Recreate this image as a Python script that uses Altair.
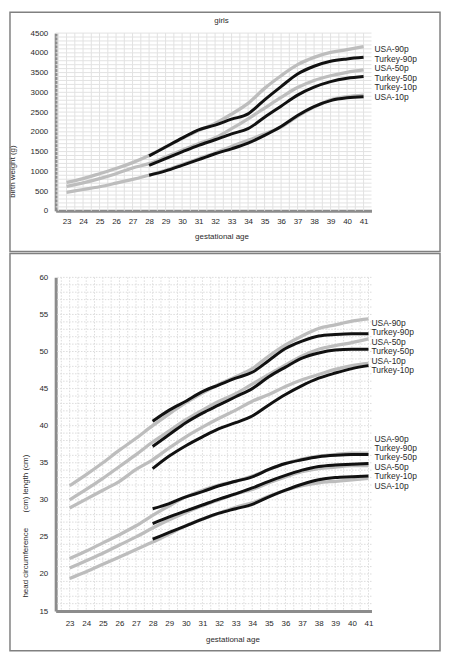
import altair as alt
import pandas as pd

FONT = "Liberation Sans"
TXT = "#2a2a2a"
GRAY = "#bdbdbd"
BLACK = "#111111"

weeks_usa = list(range(23, 42))
weeks_tr = list(range(28, 42))

# ---- top panel: birth weight (g), girls ----
bw_usa_90 = [720, 816, 940, 1070, 1220, 1400, 1615, 1830, 2035, 2210, 2450, 2720, 3100, 3420, 3700, 3885, 4010, 4080, 4155]
bw_usa_50 = [620, 706, 815, 940, 1085, 1195, 1360, 1530, 1700, 1850, 2080, 2330, 2600, 2870, 3120, 3300, 3420, 3505, 3565]
bw_usa_10 = [470, 540, 610, 700, 795, 900, 1025, 1170, 1320, 1465, 1630, 1785, 1950, 2120, 2390, 2625, 2810, 2890, 2930]
bw_tr_90 = [1390, 1615, 1840, 2050, 2170, 2320, 2455, 2810, 3145, 3465, 3660, 3785, 3845, 3885]
bw_tr_50 = [1150, 1320, 1490, 1655, 1800, 1950, 2080, 2370, 2650, 2930, 3130, 3270, 3355, 3400]
bw_tr_10 = [900, 1010, 1150, 1295, 1445, 1570, 1715, 1910, 2135, 2415, 2640, 2790, 2860, 2890]

bw_labels = ["USA-90p", "Turkey-90p", "USA-50p", "Turkey-50p", "Turkey-10p", "USA-10p"]
bw_label_y = [4098, 3846, 3620, 3369, 3142, 2891]

# ---- bottom panel: length (cm) and head circumference (cm) ----
len_usa_90 = [31.9, 33.4, 35.0, 36.7, 38.3, 40.0, 41.6, 43.1, 44.4, 45.6, 46.6, 47.7, 49.4, 50.9, 52.1, 53.1, 53.6, 54.1, 54.4]
len_usa_50 = [30.0, 31.4, 32.9, 34.5, 36.1, 37.8, 39.3, 40.8, 42.1, 43.3, 44.3, 45.6, 46.9, 48.2, 49.4, 50.3, 50.8, 51.2, 51.7]
len_usa_10 = [28.9, 30.1, 31.3, 32.5, 34.1, 35.4, 37.0, 38.5, 39.8, 41.0, 42.1, 43.3, 44.2, 45.3, 46.2, 46.9, 47.6, 48.1, 48.4]
len_tr_90 = [40.6, 42.1, 43.3, 44.6, 45.5, 46.4, 47.2, 48.8, 50.4, 51.4, 52.1, 52.3, 52.4, 52.4]
len_tr_50 = [37.2, 38.8, 40.4, 41.7, 42.8, 43.9, 45.0, 46.6, 47.9, 49.1, 49.8, 50.2, 50.3, 50.3]
len_tr_10 = [34.2, 35.9, 37.3, 38.5, 39.6, 40.4, 41.3, 42.8, 44.2, 45.4, 46.4, 47.1, 47.7, 48.1]

hc_usa_90 = [22.1, 23.1, 24.2, 25.3, 26.5, 27.9, 29.2, 30.4, 31.3, 32.0, 32.5, 33.2, 34.1, 34.9, 35.5, 35.9, 36.1, 36.3, 36.3]
hc_usa_50 = [20.8, 21.8, 22.8, 23.9, 25.0, 26.2, 27.3, 28.3, 29.2, 30.0, 30.8, 31.4, 32.3, 33.1, 33.8, 34.2, 34.4, 34.6, 34.6]
hc_usa_10 = [19.4, 20.3, 21.3, 22.3, 23.3, 24.3, 25.4, 26.5, 27.4, 28.2, 29.0, 29.6, 30.5, 31.3, 31.9, 32.3, 32.5, 32.7, 32.9]
hc_tr_90 = [28.8, 29.5, 30.4, 31.1, 31.9, 32.5, 33.1, 34.1, 34.9, 35.4, 35.8, 36.0, 36.1, 36.1]
hc_tr_50 = [26.8, 27.7, 28.5, 29.3, 30.1, 30.8, 31.6, 32.5, 33.3, 34.0, 34.5, 34.7, 34.8, 34.9]
hc_tr_10 = [24.7, 25.6, 26.5, 27.4, 28.2, 28.8, 29.4, 30.4, 31.3, 32.1, 32.7, 33.0, 33.1, 33.2]

len_labels = ["USA-90p", "Turkey-90p", "USA-50p", "Turkey-50p", "USA-10p", "Turkey-10p"]
len_label_y = [53.8, 52.6, 51.3, 50.1, 48.7, 47.5]
hc_labels = ["USA-90p", "Turkey-90p", "Turkey-50p", "USA-50p", "Turkey-10p", "USA-10p"]
hc_label_y = [38.2, 37.0, 35.8, 34.4, 33.2, 31.9]

# tick / grid values
age_ticks = list(range(23, 42))
grid_ages = [i / 2 for i in range(45, 83)]
bw_ticks = list(range(0, 4501, 500))
bw_grid = list(range(100, 4501, 100))
cm_ticks = list(range(15, 61, 5))
cm_grid = list(range(16, 61))


def long(weeks, series):
    rows = []
    for name, vals in series.items():
        for w, v in zip(weeks, vals):
            rows.append({"age": w, "value": v, "series": name})
    return pd.DataFrame(rows)


top_usa = long(weeks_usa, {"USA-90p": bw_usa_90, "USA-50p": bw_usa_50, "USA-10p": bw_usa_10})
top_tr = long(weeks_tr, {"Turkey-90p": bw_tr_90, "Turkey-50p": bw_tr_50, "Turkey-10p": bw_tr_10})
bot_usa = long(weeks_usa, {"L-USA-90p": len_usa_90, "L-USA-50p": len_usa_50, "L-USA-10p": len_usa_10,
                           "H-USA-90p": hc_usa_90, "H-USA-50p": hc_usa_50, "H-USA-10p": hc_usa_10})
bot_tr = long(weeks_tr, {"L-Turkey-90p": len_tr_90, "L-Turkey-50p": len_tr_50, "L-Turkey-10p": len_tr_10,
                         "H-Turkey-90p": hc_tr_90, "H-Turkey-50p": hc_tr_50, "H-Turkey-10p": hc_tr_10})

common_axis = dict(labelFont=FONT, labelFontSize=8, labelColor=TXT, titleFont=FONT, titleFontSize=8,
                   titleFontWeight="normal", titleColor=TXT, ticks=False, tickSize=0, grid=False,
                   domainColor="#8c8c8c", domainWidth=3, labelOverlap=False, labelFlush=False)

# ---------------- top panel ----------------
xs_top = alt.Scale(domain=[22.34, 41.48], nice=False, zero=False)
ys_top = alt.Scale(domain=[0, 4500], nice=False)
x_ax_top = alt.Axis(values=age_ticks, title="gestational age", titleX=167, titleY=26,
                    titleBaseline="middle", titleAlign="center", labelPadding=7, **common_axis)
y_ax_top = alt.Axis(values=bw_ticks, format="d", title="birth weight (g)", titleX=-43, titleY=139,
                    titleAlign="center", titleBaseline="middle", labelPadding=8, **common_axis)
XT = alt.X("age:Q", scale=xs_top, axis=x_ax_top)
YT = alt.Y("value:Q", scale=ys_top, axis=y_ax_top)

t_frame = alt.Chart(pd.DataFrame({"k": [0]})).mark_rect(fillOpacity=0, stroke="#808080", strokeWidth=1.5).encode(
    x=alt.value(-46), x2=alt.value(387), y=alt.value(-21), y2=alt.value(220))
t_title = alt.Chart(pd.DataFrame({"t": ["girls"]})).mark_text(
    font=FONT, fontSize=8, color=TXT, baseline="middle").encode(
    text="t:N", x=alt.value(167), y=alt.value(-12))
t_vgrid = alt.Chart(pd.DataFrame({"age": grid_ages})).mark_rule(color="#e2e2e2", strokeWidth=1).encode(x=XT)
t_hgrid = alt.Chart(pd.DataFrame({"value": bw_grid})).mark_rule(color="#e2e2e2", strokeWidth=1).encode(y=YT)
t_gray = alt.Chart(top_usa).mark_line(interpolate="monotone", color=GRAY, strokeWidth=3.3).encode(
    x=XT, y=YT, detail="series:N")
t_black = alt.Chart(top_tr).mark_line(interpolate="monotone", color=BLACK, strokeWidth=3).encode(
    x=XT, y=YT, detail="series:N")
t_lab = alt.Chart(pd.DataFrame({"label": bw_labels, "value": bw_label_y, "age": [41] * 6})).mark_text(
    align="left", baseline="middle", dx=11, font=FONT, fontSize=8.5, color=TXT).encode(
    x=XT, y=YT, text="label:N")

top = alt.layer(t_frame, t_title, t_vgrid, t_hgrid, t_gray, t_black, t_lab).properties(width=318, height=179)

# ---------------- bottom panel ----------------
xs_bot = alt.Scale(domain=[22.16, 41.18], nice=False, zero=False)
ys_bot = alt.Scale(domain=[15, 60], nice=False, zero=False)
x_ax_bot = alt.Axis(values=age_ticks, title="gestational age", titleX=178, titleY=29,
                    titleBaseline="middle", titleAlign="center", labelPadding=9, **common_axis)
y_ax_bot = alt.Axis(values=cm_ticks, format="d",
                    title="head circumference" + "\u00a0" * 7 + "(cm) length (cm)",
                    titleX=-30, titleY=250, titleAlign="center", titleBaseline="middle",
                    labelPadding=8, **common_axis)
XB = alt.X("age:Q", scale=xs_bot, axis=x_ax_bot)
YB = alt.Y("value:Q", scale=ys_bot, axis=y_ax_bot)

b_frame = alt.Chart(pd.DataFrame({"k": [0]})).mark_rect(fillOpacity=0, stroke="#808080", strokeWidth=1.5).encode(
    x=alt.value(-46), x2=alt.value(387), y=alt.value(-24), y2=alt.value(376))
b_vgrid = alt.Chart(pd.DataFrame({"age": grid_ages})).mark_rule(
    color="#dcdcdc", strokeWidth=1, strokeDash=[1.5, 1.5]).encode(x=XB)
b_hgrid = alt.Chart(pd.DataFrame({"value": cm_grid})).mark_rule(
    color="#dcdcdc", strokeWidth=1, strokeDash=[1.5, 1.5]).encode(y=YB)
b_gray = alt.Chart(bot_usa).mark_line(interpolate="monotone", color=GRAY, strokeWidth=3.3).encode(
    x=XB, y=YB, detail="series:N")
b_black = alt.Chart(bot_tr).mark_line(interpolate="monotone", color=BLACK, strokeWidth=3).encode(
    x=XB, y=YB, detail="series:N")
b_lab1 = alt.Chart(pd.DataFrame({"label": len_labels, "value": len_label_y, "age": [41] * 6})).mark_text(
    align="left", baseline="middle", dx=3, font=FONT, fontSize=8.5, color=TXT).encode(
    x=XB, y=YB, text="label:N")
b_lab2 = alt.Chart(pd.DataFrame({"label": hc_labels, "value": hc_label_y, "age": [41] * 6})).mark_text(
    align="left", baseline="middle", dx=6, font=FONT, fontSize=8.5, color=TXT).encode(
    x=XB, y=YB, text="label:N")

bottom = alt.layer(b_frame, b_vgrid, b_hgrid, b_gray, b_black, b_lab1, b_lab2).properties(width=318, height=336)

chart = alt.vconcat(top, bottom, spacing=67, bounds="flush").properties(
    padding=0, background="white"
).configure_view(stroke="transparent")

chart.save("out.html", embed_options={"renderer": "svg", "actions": False})
